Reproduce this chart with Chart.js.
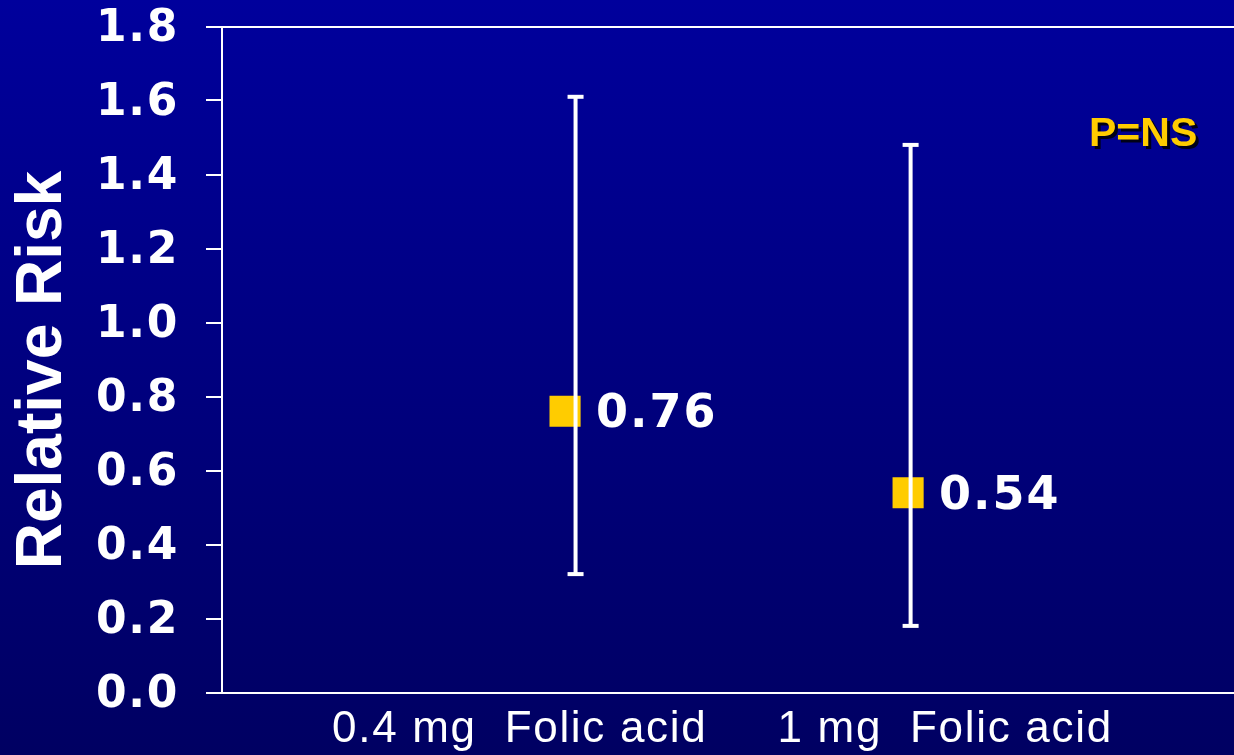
<!DOCTYPE html>
<html>
<head>
<meta charset="utf-8">
<title>Relative Risk by Folic acid dose</title>
<script src="https://cdn.jsdelivr.net/npm/chart.js@4.4.1/dist/chart.umd.min.js"></script>
<style>
  html, body { margin: 0; padding: 0; background: #000080; overflow: hidden; }
  #wrap { width: 1234px; height: 755px; }
</style>
</head>
<body>
<div id="wrap"><canvas id="rr" width="1234" height="755"></canvas></div>
<script>
// Dose groups, point estimates and 95% confidence limits
const categories = ['0.4 mg  Folic acid', '1 mg  Folic acid'];
const relativeRisk = [0.76, 0.54];
const ciLower = [0.32, 0.18];
const ciUpper = [1.61, 1.48];
const pValueText = 'P=NS';
const yAxisTitle = 'Relative Risk';

const WHITE = '#ffffff';
const GOLD = '#ffcc00';

// Slide-style vertical gradient behind everything; axis text gets a little tracking
const backgroundPlugin = {
  id: 'slideBackground',
  beforeDraw(chart) {
    const { ctx, width, height } = chart;
    const g = ctx.createLinearGradient(0, 0, 0, height);
    g.addColorStop(0, '#00009c');
    g.addColorStop(1, '#000062');
    ctx.save();
    ctx.fillStyle = g;
    ctx.fillRect(0, 0, width, height);
    ctx.restore();
    ctx.letterSpacing = '1.7px';
  },
  afterDraw(chart) {
    chart.ctx.letterSpacing = '0px';
  }
};

// Whiskers for the confidence interval, drawn over the markers
const errorBarPlugin = {
  id: 'errorBars',
  afterDatasetsDraw(chart, args, opts) {
    const { ctx } = chart;
    const xs = chart.scales.x, ys = chart.scales.y;
    ctx.save();
    ctx.fillStyle = WHITE;
    relativeRisk.forEach((v, i) => {
      const x = xs.getPixelForValue(i + 1) + (opts.shift[i] || 0);
      const top = ys.getPixelForValue(ciUpper[i]);
      const bot = ys.getPixelForValue(ciLower[i]);
      const lw = opts.lineWidth, cap = opts.capWidth, ct = opts.capThickness;
      ctx.fillRect(x - lw / 2, top, lw, bot - top);
      ctx.fillRect(x - cap / 2, top - ct / 2, cap, ct);
      ctx.fillRect(x - cap / 2, bot - ct / 2, cap, ct);
    });
    ctx.restore();
  }
};

// Value labels beside each marker, the p-value note and the rotated axis title
const annotationPlugin = {
  id: 'annotations',
  afterDraw(chart) {
    const { ctx } = chart;
    const meta = chart.getDatasetMeta(0);
    ctx.save();
    ctx.fillStyle = WHITE;
    ctx.font = 'bold 46px "DejaVu Sans"';
    ctx.letterSpacing = '2px';
    ctx.textAlign = 'left';
    ctx.textBaseline = 'middle';
    meta.data.forEach((pt, i) => {
      ctx.fillText(relativeRisk[i].toFixed(2), pt.x + 31, pt.y + 4);
    });
    ctx.letterSpacing = '0px';

    ctx.font = 'bold 41px "Liberation Sans"';
    ctx.textBaseline = 'alphabetic';
    ctx.fillStyle = 'rgba(0,0,0,0.85)';
    ctx.fillText(pValueText, 1092, 149);
    ctx.fillStyle = GOLD;
    ctx.fillText(pValueText, 1089, 146);

    ctx.translate(41, 370);
    ctx.rotate(-Math.PI / 2);
    ctx.fillStyle = WHITE;
    ctx.font = 'bold 64px "Liberation Sans"';
    ctx.textAlign = 'center';
    ctx.textBaseline = 'middle';
    ctx.fillText(yAxisTitle, 0, 2);
    ctx.restore();
  }
};

new Chart(document.getElementById('rr'), {
  type: 'scatter',
  data: {
    datasets: [{
      label: yAxisTitle,
      data: relativeRisk.map((v, i) => ({ x: i + 1, y: v })),
      pointStyle: 'rect',
      pointRadius: 22,
      pointHoverRadius: 22,
      pointBorderWidth: 0,
      backgroundColor: GOLD,
      borderColor: GOLD
    }]
  },
  options: {
    responsive: false,
    animation: false,
    devicePixelRatio: 1,
    layout: { padding: 0, autoPadding: false },
    plugins: {
      legend: { display: false },
      tooltip: { enabled: false },
      errorBars: { shift: [10.5, 2.5], lineWidth: 4, capWidth: 16, capThickness: 4 }
    },
    scales: {
      x: {
        type: 'linear',
        min: 0,
        max: 2.95,
        afterBuildTicks(scale) {
          scale.ticks = [{ value: 0.868 }, { value: 2.108 }];
        },
        afterFit(scale) {
          scale.height = 62.5;
          scale.paddingLeft = 0;
          scale.paddingRight = 0;
        },
        grid: { drawOnChartArea: false, drawTicks: false },
        border: { color: WHITE, width: 2 },
        ticks: {
          color: WHITE,
          padding: 11,
          maxRotation: 0,
          autoSkip: false,
          font: { family: '"Liberation Sans"', size: 44 },
          callback: (v, i) => categories[i]
        }
      },
      y: {
        min: 0,
        max: 1.8,
        afterFit(scale) {
          scale.width = 222;
          scale.paddingTop = 26.5;
          scale.paddingBottom = 0;
        },
        grid: {
          color: c => (c.tick && Math.abs(c.tick.value - 1.8) < 1e-6) ? WHITE : 'rgba(0,0,0,0)',
          tickColor: WHITE,
          lineWidth: 2,
          tickWidth: 2,
          tickLength: 16
        },
        border: { color: WHITE, width: 2 },
        ticks: {
          stepSize: 0.2,
          color: WHITE,
          padding: 27,
          labelOffset: 3.5,
          font: { family: '"DejaVu Sans"', size: 44, weight: 'bold' },
          callback: v => v.toFixed(1)
        }
      }
    }
  },
  plugins: [backgroundPlugin, errorBarPlugin, annotationPlugin]
});
</script>
</body>
</html>
